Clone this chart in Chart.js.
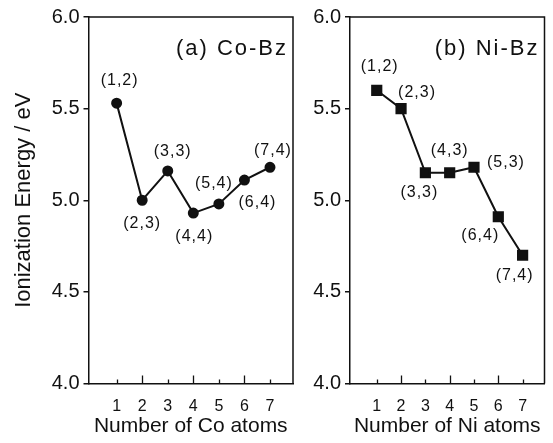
<!DOCTYPE html>
<html>
<head>
<meta charset="utf-8">
<script src="https://cdn.jsdelivr.net/npm/chart.js@4.4.1/dist/chart.umd.min.js"></script>
<style>
  body { margin: 0; background: #fff; }
  #wrap { position: relative; width: 553px; height: 443px; }
  canvas { position: absolute; top: 0; }
  #coChart { left: 0; }
  #niChart { left: 300px; }
</style>
</head>
<body>
<div id="wrap">
  <canvas id="coChart" width="300" height="443"></canvas>
  <canvas id="niChart" width="253" height="443"></canvas>
</div>
<script>
// values
const atoms = [1, 2, 3, 4, 5, 6, 7];
const coEnergy = [5.53, 5.00, 5.16, 4.93, 4.98, 5.11, 5.18];
const niEnergy = [5.60, 5.50, 5.15, 5.15, 5.18, 4.91, 4.70];
const coLabels = ["(1,2)", "(2,3)", "(3,3)", "(4,4)", "(5,4)", "(6,4)", "(7,4)"];
const niLabels = ["(1,2)", "(2,3)", "(3,3)", "(4,3)", "(5,3)", "(6,4)", "(7,4)"];

// where each (n,m) label sits relative to its point
const coOffsets = [[3, -23], [0, 23], [5, -19], [1, 24], [-5, -20], [13, 23], [3, -17]];
const niOffsets = [[3, -24], [16, -16], [-6, 20], [0, -22], [32, -5], [-18, 19], [-8, 20]];

const FONT = "Arial, 'Liberation Sans', Helvetica, sans-serif";
const INK = "#111";

Chart.defaults.font.family = FONT;
Chart.defaults.color = INK;

// frame, inward x ticks, point labels and panel title
const panelDecor = {
  id: "panelDecor",
  afterDraw(chart, args, opts) {
    const ctx = chart.ctx;
    const area = chart.chartArea;
    const x = chart.scales.x;
    ctx.save();
    ctx.strokeStyle = INK;
    ctx.lineWidth = 1.5;
    ctx.beginPath();
    ctx.moveTo(area.left, area.top);
    ctx.lineTo(area.right, area.top);
    ctx.lineTo(area.right, area.bottom);
    ctx.stroke();

    ctx.lineWidth = 1.3;
    atoms.forEach(v => {
      const px = Math.round(x.getPixelForValue(v)) + 0.5;
      const len = v % 2 === 0 ? 8 : 4;
      ctx.beginPath();
      ctx.moveTo(px, area.bottom);
      ctx.lineTo(px, area.bottom - len);
      ctx.stroke();
    });

    const meta = chart.getDatasetMeta(0);
    ctx.fillStyle = INK;
    ctx.font = "16px " + FONT;
    ctx.letterSpacing = "1px";
    ctx.textAlign = "center";
    ctx.textBaseline = "middle";
    meta.data.forEach((pt, i) => {
      const off = opts.offsets[i];
      ctx.fillText(opts.labels[i], pt.x + off[0], pt.y + off[1]);
    });

    ctx.font = "22px " + FONT;
    ctx.letterSpacing = "2px";
    ctx.textAlign = "right";
    ctx.textBaseline = "alphabetic";
    ctx.fillText(opts.title, area.right - 5, 55);
    ctx.restore();
  }
};

function makePanel(canvasId, values, labels, offsets, title, metal, yWidth, showYTitle, pointStyle, pointRadius, padRight) {
  return new Chart(document.getElementById(canvasId), {
    type: "line",
    data: {
      datasets: [{
        data: atoms.map((a, i) => ({ x: a, y: values[i] })),
        borderColor: INK,
        borderWidth: 2,
        backgroundColor: INK,
        pointBackgroundColor: INK,
        pointBorderColor: INK,
        pointStyle: pointStyle,
        pointRadius: pointRadius,
        tension: 0
      }]
    },
    options: {
      responsive: false,
      animation: false,
      devicePixelRatio: 1,
      layout: { padding: { top: 17, right: padRight, left: 0, bottom: 0 } },
      plugins: {
        legend: { display: false },
        tooltip: { enabled: false },
        panelDecor: { labels: labels, offsets: offsets, title: title }
      },
      scales: {
        x: {
          type: "linear",
          min: -0.1,
          max: 7.9,
          afterBuildTicks: s => { s.ticks = atoms.map(v => ({ value: v })); },
          afterFit: s => { s.height = 59.5; },
          grid: { display: false, drawTicks: false },
          border: { display: true, color: INK, width: 1.5 },
          ticks: { font: { size: 16 }, padding: 13, color: INK, maxRotation: 0 },
          title: {
            display: true,
            text: "Number of " + metal + " atoms",
            font: { size: 21 },
            color: INK,
            padding: { top: 0, bottom: 4 }
          }
        },
        y: {
          min: 4,
          max: 6,
          afterFit: s => { s.width = yWidth; },
          grid: { display: true, drawOnChartArea: false, drawTicks: true, tickLength: 5, color: INK, lineWidth: 1.5 },
          border: { display: true, color: INK, width: 1.5 },
          ticks: { stepSize: 0.5, font: { size: 20 }, padding: 4, color: INK, callback: v => v.toFixed(1) },
          title: {
            display: showYTitle,
            text: "Ionization Energy / eV",
            font: { size: 22 },
            color: INK,
            padding: { top: 11, bottom: 0 }
          }
        }
      }
    },
    plugins: [panelDecor]
  });
}

makePanel("coChart", coEnergy, coLabels, coOffsets, "(a) Co-Bz", "Co", 88.5, true, "circle", 4.5, 7);
makePanel("niChart", niEnergy, niLabels, niOffsets, "(b) Ni-Bz", "Ni", 50, false, "rect", 6.5, 1);
</script>
</body>
</html>
